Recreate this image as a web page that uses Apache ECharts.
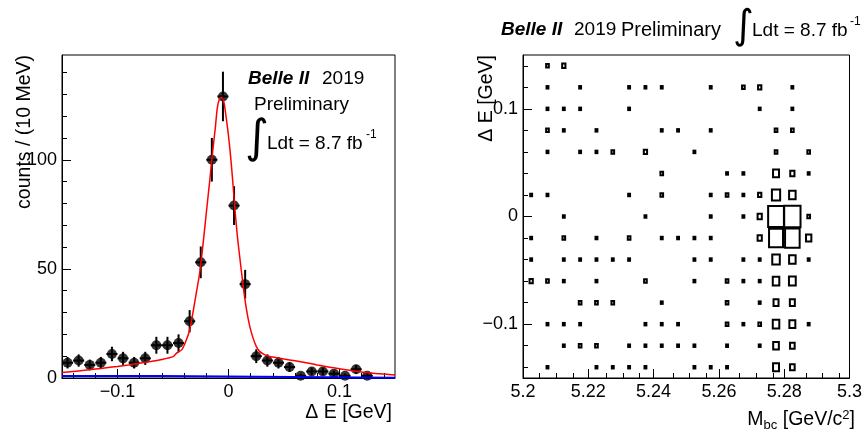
<!DOCTYPE html>
<html>
<head>
<meta charset="utf-8">
<script src="https://cdn.jsdelivr.net/npm/echarts@6/dist/echarts.min.js"></script>
<style>
  html, body { margin: 0; padding: 0; background: #ffffff; }
  #chart { width: 865px; height: 433px; }
</style>
</head>
<body>
<div id="chart"></div>
<script>
// ---- Left panel: Delta E projection (10 MeV bins) ----
const deCenters = [-0.145, -0.135, -0.125, -0.115, -0.105, -0.095, -0.085, -0.075, -0.065, -0.055,
                   -0.045, -0.035, -0.025, -0.015, -0.005, 0.005, 0.015, 0.025, 0.035, 0.045,
                   0.055, 0.065, 0.075, 0.085, 0.095, 0.105, 0.115, 0.125];
const deCounts = [7, 8, 6, 7, 11, 9, 7, 9, 15, 15,
                  16, 26, 53, 100, 129, 79, 43, 10, 8, 7,
                  5, 1, 3, 3, 2, 1, 4, 1];

// Total fit curve (signal + background)
const fitX = [-0.150, -0.140, -0.130, -0.120, -0.110, -0.100, -0.090, -0.080, -0.070, -0.060,
              -0.050, -0.047, -0.042, -0.038, -0.035, -0.032, -0.029, -0.026, -0.023, -0.020,
              -0.017, -0.014, -0.012, -0.010, -0.008, -0.006, -0.004, -0.002, 0.000, 0.002,
              0.004, 0.006, 0.008, 0.010, 0.013, 0.016, 0.019, 0.022, 0.025, 0.028,
              0.032, 0.036, 0.040, 0.050, 0.060, 0.070, 0.080, 0.090, 0.100, 0.110,
              0.120, 0.130, 0.140, 0.150];
const fitY = [2.5, 3.0, 3.5, 4.1, 4.7, 5.3, 6.0, 6.8, 7.6, 8.5,
              9.8, 11.3, 13.0, 17.4, 22, 30, 39, 48, 61, 75.6,
              90, 105, 114, 124, 128, 128.5, 126, 119, 111, 101,
              89, 76, 65, 56, 43, 32, 24, 18.5, 14.5, 12.2,
              10.8, 10.0, 9.6, 8.7, 7.9, 7.0, 6.0, 5.0, 4.2, 3.4,
              2.8, 2.2, 1.8, 1.4];

// Peaking-background component
const bkgX = [-0.150, -0.062, -0.062, 0.150];
const bkgY = [0.9, 0.9, 0.1, 0.1];

// Tick positions
const deMajor = [-0.1, 0, 0.1];
const deMinor = [-0.14, -0.12, -0.08, -0.06, -0.04, -0.02, 0.02, 0.04, 0.06, 0.08, 0.12, 0.14];
const cntMajor = [0, 50, 100];
const cntMinor = [10, 20, 30, 40, 60, 70, 80, 90, 110, 120, 130, 140];
const mbcMajor = [5.2, 5.22, 5.24, 5.26, 5.28, 5.3];
const mbcMinor = [5.205, 5.21, 5.215, 5.225, 5.23, 5.235, 5.245, 5.25, 5.255,
                  5.265, 5.27, 5.275, 5.285, 5.29, 5.295];
const de2Minor = [-0.14, -0.12, -0.08, -0.06, -0.04, -0.02, 0.02, 0.04, 0.06, 0.08, 0.12, 0.14];

// ---- Right panel: Mbc vs Delta E, 20 x 15 cells ----
const mbcCenters = [5.2025, 5.2075, 5.2125, 5.2175, 5.2225, 5.2275, 5.2325, 5.2375, 5.2425, 5.2475,
                    5.2525, 5.2575, 5.2625, 5.2675, 5.2725, 5.2775, 5.2825, 5.2875, 5.2925, 5.2975];
const deRows = [0.14, 0.12, 0.10, 0.08, 0.06, 0.04, 0.02, 0.00, -0.02, -0.04, -0.06, -0.08, -0.10, -0.12, -0.14];
const cellCounts = [
  [0, 2, 3, 0, 0, 0, 0, 0, 0, 0, 0, 0, 0, 0, 0, 0, 0, 0, 0, 0],
  [0, 1, 0, 1, 0, 0, 1, 1, 1, 0, 0, 1, 0, 2, 3, 0, 1, 0, 0, 0],
  [0, 1, 1, 1, 0, 0, 1, 0, 0, 0, 0, 0, 0, 0, 1, 0, 1, 0, 0, 0],
  [0, 2, 1, 0, 1, 0, 0, 0, 1, 1, 0, 1, 0, 0, 0, 2, 2, 0, 0, 0],
  [0, 1, 0, 1, 1, 2, 0, 3, 0, 0, 1, 0, 0, 0, 0, 2, 0, 2, 0, 0],
  [0, 0, 0, 0, 0, 0, 0, 0, 2, 0, 0, 0, 1, 1, 0, 10, 5, 1, 0, 0],
  [1, 1, 0, 0, 0, 0, 1, 0, 2, 0, 0, 1, 2, 1, 3, 19, 12, 0, 0, 0],
  [0, 0, 1, 0, 0, 0, 0, 1, 0, 0, 0, 1, 0, 1, 5, 70, 75, 2, 0, 0],
  [1, 0, 2, 0, 1, 0, 2, 0, 1, 1, 1, 1, 0, 0, 5, 55, 60, 8, 0, 0],
  [1, 0, 1, 1, 1, 1, 1, 0, 0, 0, 1, 1, 0, 1, 1, 16, 12, 1, 0, 0],
  [3, 2, 1, 0, 1, 0, 0, 2, 0, 0, 1, 0, 2, 1, 1, 12, 13, 0, 0, 0],
  [0, 0, 0, 2, 2, 2, 0, 0, 1, 0, 0, 0, 2, 0, 1, 7, 7, 0, 0, 0],
  [0, 1, 1, 1, 0, 0, 0, 1, 1, 1, 0, 0, 2, 1, 2, 12, 10, 1, 0, 0],
  [0, 0, 1, 2, 2, 0, 1, 1, 1, 1, 1, 0, 1, 0, 1, 9, 6, 0, 0, 0],
  [0, 1, 0, 0, 1, 1, 1, 1, 0, 0, 1, 1, 1, 0, 0, 10, 6, 0, 0, 0]
];

const FONT = '"Liberation Sans", Arial, Helvetica, sans-serif';
const MINUS = v => String(+(+v).toFixed(3)).replace('-', '\u2212');

const boxData = [];
cellCounts.forEach((row, r) => row.forEach((n, c) => {
  if (n > 0) boxData.push([mbcCenters[c], deRows[r], n]);
}));
const zMax = Math.max(...boxData.map(d => d[2]));

const chart = echarts.init(document.getElementById('chart'), null, { renderer: 'canvas' });

const tickStyle = { color: '#000', width: 1 };
function axisPair(grid, dim, min, max, major, minor, majorLen, minorLen, labelMargin) {
  const base = {
    type: 'value', min, max, splitLine: { show: false },
    position: dim === 'x' ? 'bottom' : 'left'
  };
  return [
    Object.assign({}, base, {
      gridIndex: grid,
      axisLine: { show: true, onZero: false, lineStyle: { color: '#000', width: 1 } },
      axisTick: { show: true, inside: true, length: majorLen, customValues: major, lineStyle: tickStyle },
      axisLabel: { show: true, customValues: major, formatter: MINUS, fontFamily: FONT, fontSize: 18,
                   color: '#000', margin: labelMargin }
    }),
    Object.assign({}, base, {
      gridIndex: grid + 1,
      axisLine: { show: false, onZero: false },
      axisTick: { show: true, inside: true, length: minorLen, customValues: minor, lineStyle: tickStyle },
      axisLabel: { show: false }
    })
  ];
}

const gridRectL = { left: 62, top: 55, width: 333, height: 323 };
const gridRectR = { left: 523, top: 55, width: 333, height: 323 };

function txt(x, y, text, size, extra, rotation) {
  return { type: 'text', x, y, rotation: rotation || 0,
           style: Object.assign({ text, font: size + 'px ' + FONT, fill: '#000', verticalAlign: 'middle' }, extra || {}) };
}
const BOLDIT = s => 'italic bold ' + s + 'px ' + FONT;

const option = {
  backgroundColor: '#ffffff',
  animation: false,
  grid: [
    Object.assign({ show: true, borderColor: '#000', borderWidth: 1, backgroundColor: 'transparent' }, gridRectL),
    Object.assign({ show: false }, gridRectL),
    Object.assign({ show: true, borderColor: '#000', borderWidth: 1, backgroundColor: 'transparent' }, gridRectR),
    Object.assign({ show: false }, gridRectR)
  ],
  xAxis: [
    ...axisPair(0, 'x', -0.15, 0.15, deMajor, deMinor, 9, 5, 5),
    ...axisPair(2, 'x', 5.2, 5.3, mbcMajor, mbcMinor, 9, 5, 5)
  ],
  yAxis: [
    ...axisPair(0, 'y', 0, 148, cntMajor, cntMinor, 9, 5, 5),
    ...axisPair(2, 'y', -0.15, 0.15, deMajor, de2Minor, 9, 5, 5)
  ],
  series: [
    {
      // statistical error bars: vertical sqrt(N), horizontal half bin width
      type: 'custom', xAxisIndex: 0, yAxisIndex: 0, z: 3,
      data: deCenters.map((x, i) => [x, deCounts[i], Math.sqrt(deCounts[i])]),
      renderItem: function (params, api) {
        const x = api.value(0), y = api.value(1), e = api.value(2);
        const top = api.coord([x, y + e]);
        const bot = api.coord([x, Math.max(0, y - e)]);
        const l = api.coord([x - 0.005, y]);
        const r = api.coord([x + 0.005, y]);
        const st = { stroke: '#000', lineWidth: 2 };
        return {
          type: 'group',
          children: [
            { type: 'line', shape: { x1: top[0], y1: top[1], x2: bot[0], y2: bot[1] }, style: st },
            { type: 'line', shape: { x1: l[0], y1: l[1], x2: r[0], y2: r[1] }, style: st }
          ]
        };
      }
    },
    {
      type: 'scatter', xAxisIndex: 0, yAxisIndex: 0, z: 4,
      data: deCenters.map((x, i) => [x, deCounts[i]]),
      symbol: 'circle', symbolSize: 10,
      itemStyle: { color: '#000' }
    },
    {
      type: 'line', xAxisIndex: 0, yAxisIndex: 0, z: 5,
      data: bkgX.map((x, i) => [x, bkgY[i]]),
      showSymbol: false, symbol: 'none',
      lineStyle: { color: '#0000ff', width: 2 }
    },
    {
      type: 'line', xAxisIndex: 0, yAxisIndex: 0, z: 6,
      data: fitX.map((x, i) => [x, fitY[i]]),
      smooth: 0.25, showSymbol: false, symbol: 'none',
      lineStyle: { color: '#ff0000', width: 1.5 }
    },
    {
      // box histogram: box sides scale with sqrt(content / max)
      type: 'custom', xAxisIndex: 2, yAxisIndex: 2, z: 3,
      data: boxData,
      renderItem: function (params, api) {
        const c = api.coord([api.value(0), api.value(1)]);
        const cell = api.size([0.005, 0.02]);
        const f = Math.sqrt(api.value(2) / zMax);
        const w = cell[0] * f, h = cell[1] * f;
        return {
          type: 'rect',
          shape: { x: c[0] - w / 2, y: c[1] - h / 2, width: w, height: h },
          style: { fill: 'none', stroke: '#000', lineWidth: 2 }
        };
      }
    }
  ],
  graphic: [
    // axis titles
    txt(25, 55, 'counts / (10 MeV)', 19.5, { align: 'right' }, Math.PI / 2),
    txt(392, 413, '\u0394 E [GeV]', 19.5, { align: 'right' }),
    txt(487, 55, '\u0394 E [GeV]', 19.5, { align: 'right' }, Math.PI / 2),
    { type: 'text', x: 855, y: 420,
      style: {
        text: '{m|M}{s|bc}{m| [GeV/c}{p|2}{m|]}', align: 'right', verticalAlign: 'middle',
        rich: {
          m: { fontFamily: FONT, fontSize: 19.5, color: '#000' },
          s: { fontFamily: FONT, fontSize: 13, color: '#000', padding: [10, 0, 0, 0] },
          p: { fontFamily: FONT, fontSize: 13, color: '#000', padding: [0, 0, 10, 0] }
        }
      } },
    // left panel labels
    txt(248, 79, 'Belle II', 19, { font: BOLDIT(19) }),
    txt(322, 79, '2019', 19),
    txt(254, 105, 'Preliminary', 19),
    { type: 'text', x: 245, y: 140,
      style: { text: '\u222B', font: '46px "DejaVu Sans"', fill: '#000', verticalAlign: 'middle' } },
    txt(267, 144, 'Ldt = 8.7 fb', 19),
    txt(366, 135, '-1', 12),
    // right panel header
    txt(501, 30, 'Belle II', 19, { font: BOLDIT(19) }),
    txt(574, 30, '2019', 19),
    txt(621, 30, 'Preliminary', 20),
    { type: 'text', x: 733, y: 28,
      style: { text: '\u222B', font: '40px "DejaVu Sans"', fill: '#000', verticalAlign: 'middle' } },
    txt(752, 31, 'Ldt = 8.7 fb', 19),
    txt(850, 22, '-1', 12)
  ]
};

chart.setOption(option);
</script>
</body>
</html>
